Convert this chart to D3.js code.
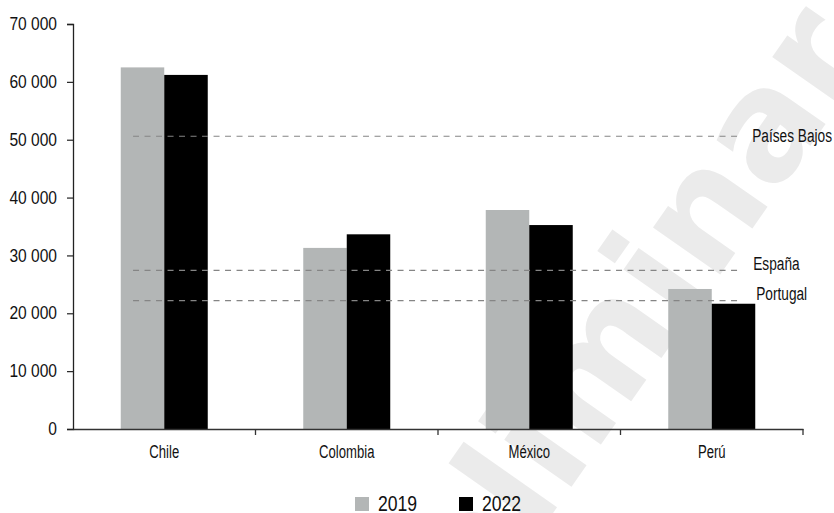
<!DOCTYPE html>
<html>
<head>
<meta charset="utf-8">
<script src="https://cdn.jsdelivr.net/npm/d3@7"></script>
<style>
  html, body { margin: 0; padding: 0; background: #fff; }
  svg { display: block; }
  text { font-family: "Liberation Sans", Arimo, sans-serif; fill: #111; }
</style>
</head>
<body>
<svg id="chart" width="834" height="513"></svg>
<script>
const categories = ["Chile", "Colombia", "México", "Perú"];
const seriesNames = ["2019", "2022"];
const values2019 = [62500, 31300, 37850, 24200];
const values2022 = [61200, 33650, 35250, 21650];
const refNames = ["Países Bajos", "España", "Portugal"];
const refValues = [50600, 27400, 22200];
const yTicks = [0, 10000, 20000, 30000, 40000, 50000, 60000, 70000];
const colors = ["#b3b6b6", "#000000"];

const svg = d3.select("#chart");
const mLeft = 73, mRight = 803, mTop = 24, mBottom = 429;

// horizontally condense text around its anchor point (narrow typeface look)
function condense(sel, s) {
  sel.each(function () {
    const t = d3.select(this);
    const x = +t.attr("x") || 0;
    const yv = +t.attr("y") || 0;
    t.attr("x", 0).attr("y", 0).attr("transform", `translate(${x},${yv}) scale(${s},1)`);
  });
}

// watermark
svg.append("text")
  .attr("transform", "translate(371,773) rotate(-55)")
  .attr("text-anchor", "start")
  .style("font-family", "'DejaVu Sans', sans-serif")
  .style("font-weight", "bold")
  .style("font-size", "150px")
  .style("fill", "#ebebeb")
  .text("Preliminar");

const x0 = d3.scaleBand().domain(categories).range([mLeft, mRight]).padding(0);
const step = x0.step();
const bw = 43.5;
const x1 = d3.scaleBand().domain(seriesNames).range([step / 2 - bw, step / 2 + bw]).padding(0);
const y = d3.scaleLinear().domain([0, 70000]).range([mBottom, mTop]);

const fmt = v => d3.format(",")(v).replace(/,/g, " ");

// bars
const data = categories.map((c, i) => ({ cat: c, vals: [values2019[i], values2022[i]] }));
const g = svg.append("g");
data.forEach(d => {
  d.vals.forEach((v, j) => {
    g.append("rect")
      .attr("x", x0(d.cat) + x1(seriesNames[j]))
      .attr("y", y(v))
      .attr("width", x1.bandwidth())
      .attr("height", y(0) - y(v))
      .attr("fill", colors[j]);
  });
});

// reference lines
const refX1 = x0("Chile") + step * 0.329;
const refX2 = x0("Perú") + step * 0.645;
const labelDy = [5.5, -0.5, -1];
const labelDx = [14, 15, 18];
refValues.forEach((v, i) => {
  svg.append("line")
    .attr("x1", refX1).attr("x2", refX2)
    .attr("y1", y(v)).attr("y2", y(v))
    .attr("stroke", "#858585")
    .attr("stroke-width", 1.2)
    .attr("stroke-dasharray", "6,5.5");
  const t = svg.append("text")
    .attr("x", refX2 + labelDx[i])
    .attr("y", y(v) + labelDy[i])
    .style("font-size", "19px")
    .text(refNames[i]);
  condense(t, 0.72);
});

// y axis
const yAxis = d3.axisLeft(y).tickValues(yTicks).tickFormat(fmt).tickSize(6).tickPadding(10);
const ya = svg.append("g").attr("transform", `translate(${mLeft},0)`).call(yAxis);
ya.selectAll("text").style("font-size", "19px").attr("fill", "#111").attr("dy", "0.3em");
condense(ya.selectAll("text"), 0.82);
ya.select(".domain").attr("stroke", "#222").attr("stroke-width", 1.3);
ya.selectAll(".tick line").attr("stroke", "#222").attr("stroke-width", 1.2);

// x axis
const xAxis = d3.axisBottom(x0).tickSize(0).tickPadding(29);
const xa = svg.append("g").attr("transform", `translate(0,${mBottom})`).call(xAxis);
xa.select(".domain").attr("stroke", "#333").attr("stroke-width", 1.6);
xa.selectAll("text").style("font-size", "19px").attr("fill", "#111").attr("dy", "0");
condense(xa.selectAll("text"), 0.69);
const bounds = categories.map(c => x0(c)).concat([mRight]).slice(1);
xa.selectAll(".xt").data(bounds).enter().append("line")
  .attr("class", "xt")
  .attr("x1", d => d).attr("x2", d => d)
  .attr("y1", 0).attr("y2", 6)
  .attr("stroke", "#333").attr("stroke-width", 1.3);

// legend
const legX = [355, 459];
seriesNames.forEach((s, i) => {
  svg.append("rect").attr("x", legX[i]).attr("y", 497).attr("width", 14).attr("height", 14).attr("fill", colors[i]);
  const t = svg.append("text").attr("x", legX[i] + 23).attr("y", 510.5).style("font-size", "22px").text(s);
  condense(t, 0.8);
});
</script>
</body>
</html>
